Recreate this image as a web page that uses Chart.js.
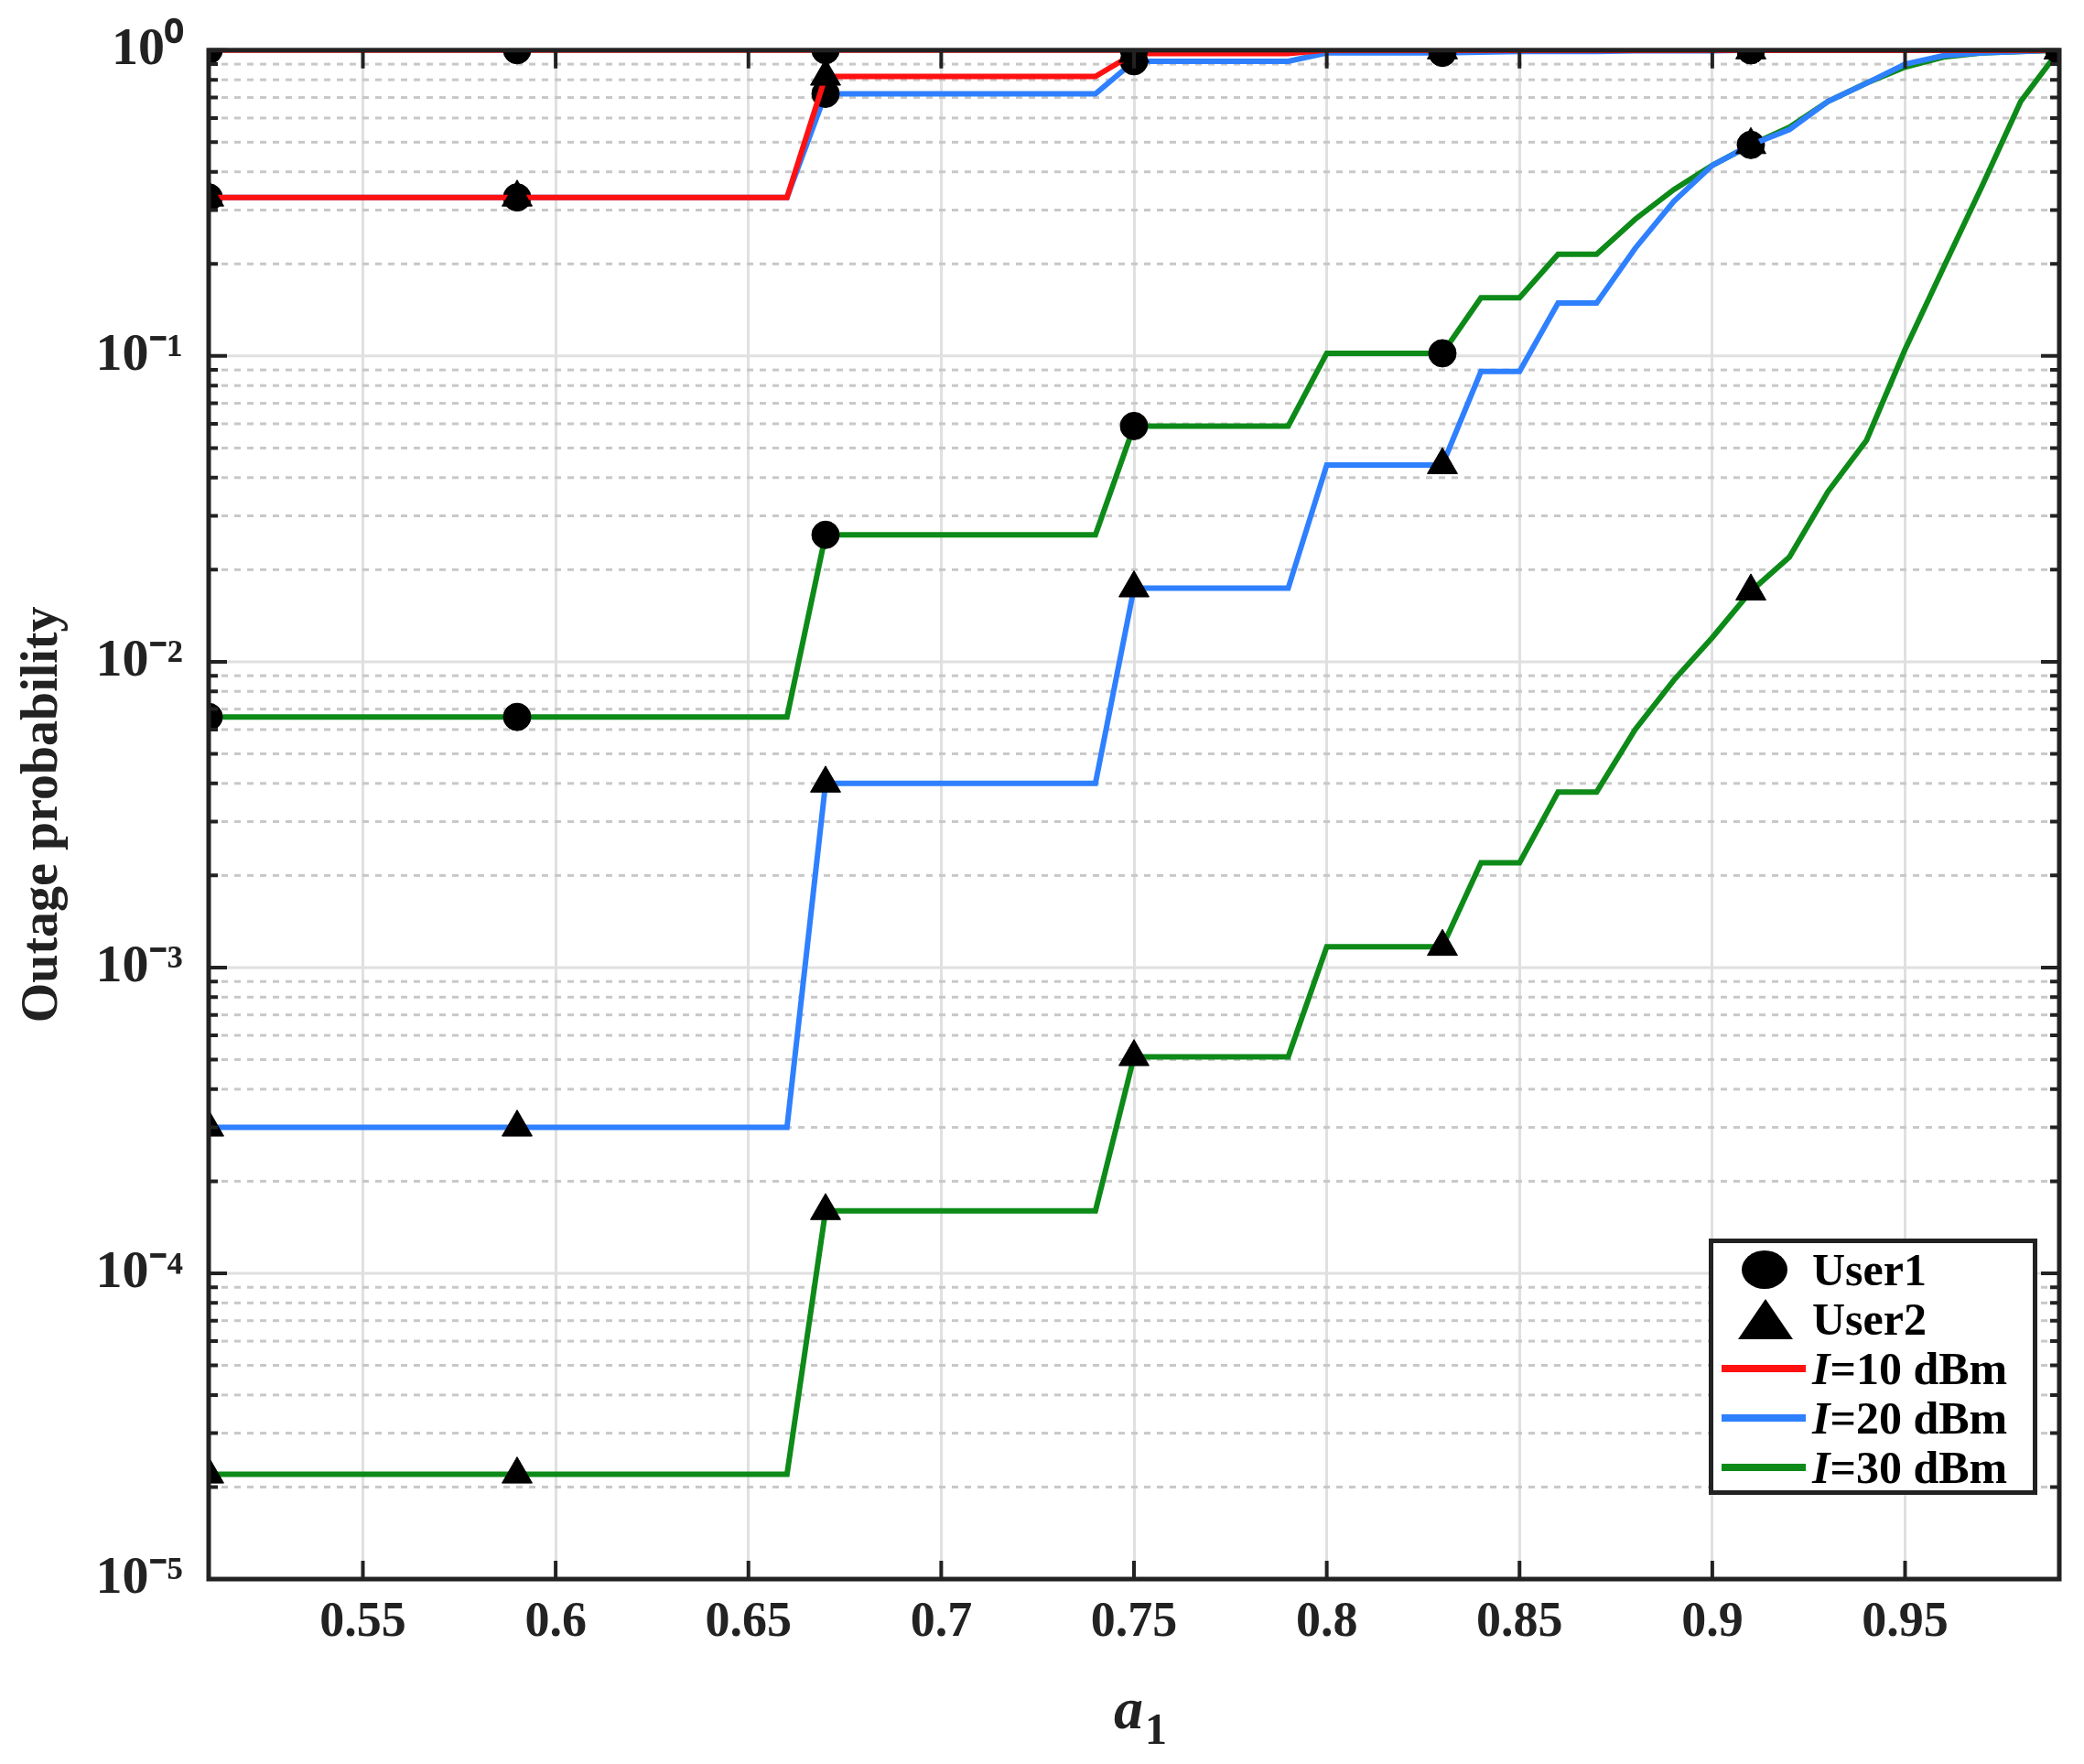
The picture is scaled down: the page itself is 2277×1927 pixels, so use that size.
<!DOCTYPE html>
<html><head><meta charset="utf-8">
<script src="https://cdn.jsdelivr.net/npm/chart.js@4"></script>
<style>
html,body{margin:0;padding:0;background:#fff;}
#wrap{position:relative;width:2277px;height:1927px;}
#legend{position:absolute;left:1867px;top:1353px;width:359px;height:280px;border:5px solid #222;background:#fff;font-family:"Liberation Serif","Times New Roman",serif;font-weight:bold;font-size:50px;color:#000;box-sizing:border-box;}
.row{position:absolute;left:0;height:54px;width:100%;}
.txt{position:absolute;left:108px;top:0;line-height:54px;}
.sw{position:absolute;left:9px;top:23px;width:92px;height:8px;}
</style></head>
<body><div id="wrap"><canvas id="c" width="2277" height="1927"></canvas>
<div id="legend">
<div class="row" style="top:2px"><svg style="position:absolute;left:30px;top:5px" width="52" height="44"><ellipse cx="26" cy="22" rx="25" ry="21" fill="#000"/></svg><span class="txt">User1</span></div>
<div class="row" style="top:56px"><svg style="position:absolute;left:26px;top:4px" width="62" height="46"><polygon points="31,1 61,45 1,45" fill="#000"/></svg><span class="txt">User2</span></div>
<div class="row" style="top:110px"><div class="sw" style="background:#ff1111"></div><span class="txt"><i>I</i>=10 dBm</span></div>
<div class="row" style="top:164px"><div class="sw" style="background:#2f80ff"></div><span class="txt"><i>I</i>=20 dBm</span></div>
<div class="row" style="top:218px"><div class="sw" style="background:#0d8a18"></div><span class="txt"><i>I</i>=30 dBm</span></div>
</div></div>
<script>
const xs=[];for(let i=51;i<=99;i++)xs.push(i/100);
const rep=(v,n)=>Array(n).fill(v);
// 0.51..0.66 (16), 0.67..0.74 (8), 0.75..0.79 (5), 0.80..0.83 (4), 0.84..0.99 (16)
const red1=rep(1,49);
const red2=[...rep(0.33,16),...rep(0.82,8),...rep(0.975,5),...rep(1,4),...rep(1,16)];
const blue1=[...rep(0.33,16),...rep(0.72,8),...rep(0.92,5),...rep(0.98,4),0.985,0.99,0.99,0.99,0.995,0.995,0.995,1,1,1,1,1,1,1,1,1];
const blue2=[...rep(3.0e-4,16),...rep(4.0e-3,8),...rep(0.0174,5),...rep(0.044,4),0.089,0.089,0.149,0.149,0.225,0.32,0.42,0.49,0.55,0.68,0.78,0.9,0.96,0.98,0.99,1];
const green1=[...rep(0.0066,16),...rep(0.026,8),...rep(0.059,5),...rep(0.102,4),0.155,0.155,0.215,0.215,0.28,0.35,0.42,0.49,0.56,0.68,0.78,0.88,0.95,0.98,0.99,1];
const green2=[...rep(2.2e-5,16),...rep(1.6e-4,8),...rep(5.1e-4,5),...rep(1.17e-3,4),2.2e-3,2.2e-3,3.75e-3,3.75e-3,6e-3,8.7e-3,0.012,0.017,0.022,0.036,0.053,0.105,0.195,0.36,0.68,1];
const xTicks=[0.55,0.6,0.65,0.7,0.75,0.8,0.85,0.9,0.95];
const yTicks=[1e-5,1e-4,1e-3,1e-2,1e-1,1];
const yLabels=['10⁻⁵','10⁻⁴','10⁻³','10⁻²','10⁻¹','10⁰'];
const markerX=[0.51,0.59,0.67,0.75,0.83,0.91,0.99];
const FAM='"Liberation Serif", "Times New Roman", serif';
const mk=r=>ctx=>markerX.some(m=>Math.abs(xs[ctx.dataIndex]-m)<1e-6)?r:0;
function ds(data,color,style){return {data:data.map((v,i)=>({x:xs[i],y:v})),borderColor:color,borderWidth:6,pointStyle:style,pointRadius:mk(style==='triangle'?19:15),pointHoverRadius:0,pointBackgroundColor:'#000',pointBorderColor:'#000',pointBorderWidth:1,tension:0};}
const grid={id:'g',beforeDatasetsDraw(ch){const {ctx,chartArea:a,scales:{y}}=ch;ctx.save();
 for(let e=-5;e<=0;e++){for(let m=1;m<=9;m++){const v=m*Math.pow(10,e);if(v>1)break;const p=y.getPixelForValue(v);
  ctx.beginPath();if(m===1){ctx.setLineDash([]);ctx.strokeStyle='#e0e0e0';}else{ctx.setLineDash([7,7]);ctx.strokeStyle='#c8c8c8';}
  ctx.lineWidth=3;ctx.moveTo(a.left,p);ctx.lineTo(a.right,p);ctx.stroke();}}
 ctx.restore();},
 afterDraw(ch){const {ctx,chartArea:a,scales:{x,y}}=ch;ctx.save();ctx.setLineDash([]);ctx.strokeStyle='#222';ctx.lineWidth=5;
 ctx.strokeRect(a.left,a.top,a.right-a.left,a.bottom-a.top);ctx.lineWidth=4;
 for(let e=-5;e<=0;e++){for(let m=1;m<=9;m++){const v=m*Math.pow(10,e);if(v>1)break;const p=y.getPixelForValue(v);const L=m===1?20:10;
  ctx.beginPath();ctx.moveTo(a.left,p);ctx.lineTo(a.left+L,p);ctx.moveTo(a.right,p);ctx.lineTo(a.right-L,p);ctx.stroke();}}
 xTicks.forEach(t=>{const p=x.getPixelForValue(t);ctx.beginPath();ctx.moveTo(p,a.bottom);ctx.lineTo(p,a.bottom-20);ctx.moveTo(p,a.top);ctx.lineTo(p,a.top+20);ctx.stroke();});
 ctx.fillStyle='#222';ctx.textBaseline='alphabetic';ctx.textAlign='left';
 ctx.font='italic bold 64px '+FAM;const w=ctx.measureText('a').width;const cx=(a.left+a.right)/2-22;
 ctx.fillText('a',cx,1888);ctx.font='bold 48px '+FAM;ctx.fillText('1',cx+w+2,1905);
 ctx.translate(62,(a.top+a.bottom)/2);ctx.rotate(-Math.PI/2);ctx.textAlign='center';ctx.font='bold 56px '+FAM;ctx.fillText('Outage probability',0,0);
 ctx.restore();}};
new Chart(document.getElementById('c'),{type:'line',
 data:{datasets:[ds(red1,'#ff1111','circle'),ds(red2,'#ff1111','triangle'),ds(blue1,'#2f80ff','circle'),ds(blue2,'#2f80ff','triangle'),ds(green1,'#0d8a18','circle'),ds(green2,'#0d8a18','triangle')]},
 options:{responsive:false,animation:false,devicePixelRatio:1,layout:{padding:{left:0,top:54,right:27,bottom:0}},
  plugins:{legend:{display:false},tooltip:{enabled:false}},
  scales:{
   x:{type:'linear',min:0.51,max:0.99,afterFit:s=>{s.height=202;},afterBuildTicks:s=>{s.ticks=xTicks.map(v=>({value:v}));},
    grid:{color:'#e0e0e0',lineWidth:3,drawTicks:false},border:{display:false},
    ticks:{padding:16,color:'#222',font:{family:FAM,weight:'bold',size:54},callback:v=>String(Number(v.toFixed(2)))}},
   y:{type:'logarithmic',min:1e-5,max:1,afterFit:s=>{s.width=228;},afterBuildTicks:s=>{s.ticks=yTicks.map(v=>({value:v}));},
    grid:{display:false},border:{display:false},
    ticks:{padding:20,color:'#222',font:{family:FAM,weight:'bold',size:58},callback:(v)=>yLabels[yTicks.findIndex(t=>Math.abs(Math.log10(t)-Math.log10(v))<1e-6)]||''}}
  }},plugins:[grid]});
</script></body></html>
